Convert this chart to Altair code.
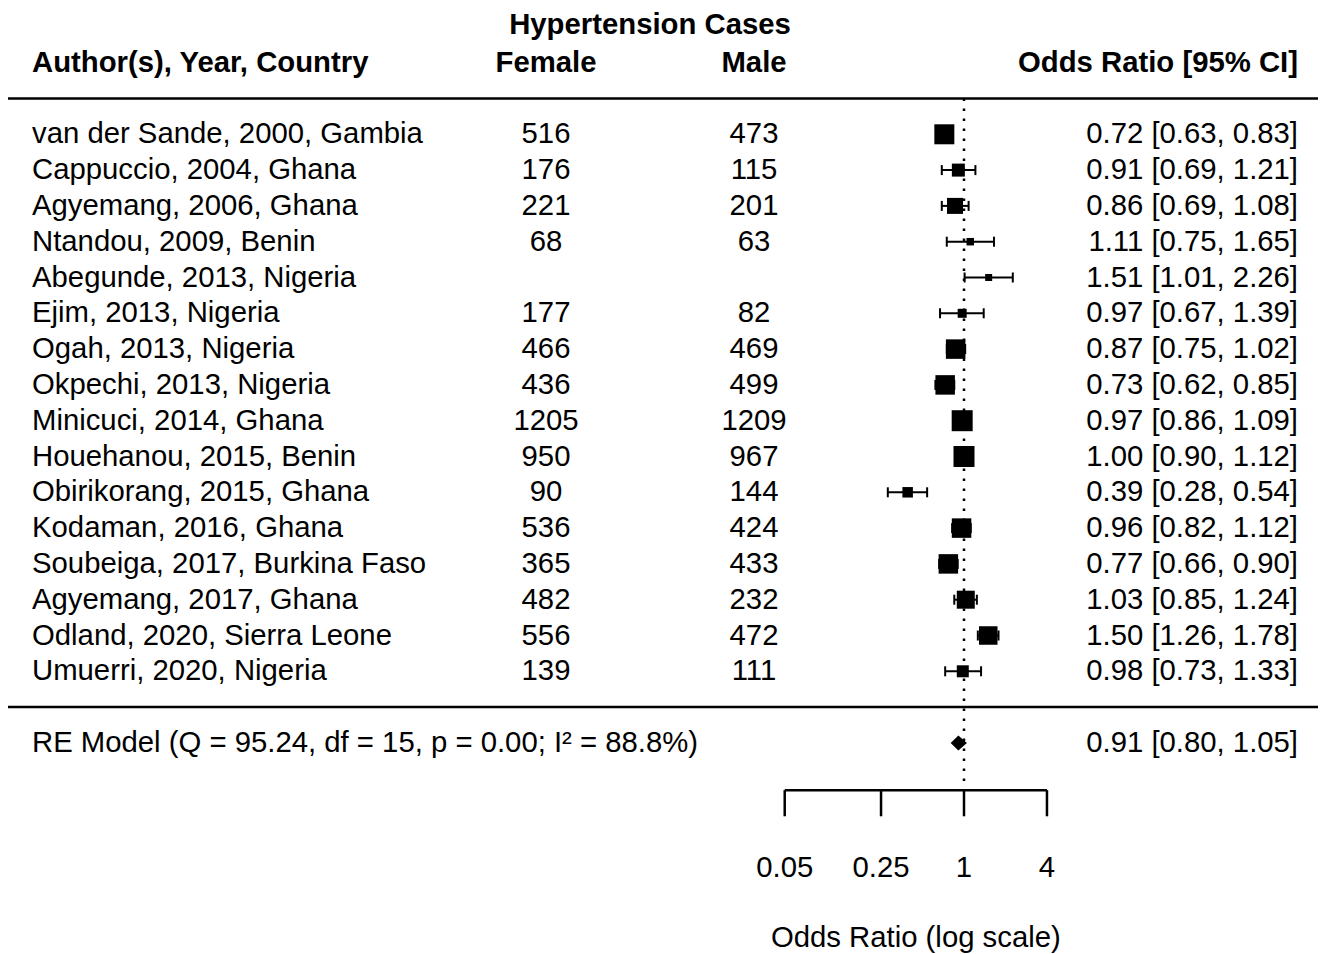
import altair as alt
import pandas as pd

# ---------------- data ----------------
studies = [
    "van der Sande, 2000, Gambia", "Cappuccio, 2004, Ghana", "Agyemang, 2006, Ghana",
    "Ntandou, 2009, Benin", "Abegunde, 2013, Nigeria", "Ejim, 2013, Nigeria",
    "Ogah, 2013, Nigeria", "Okpechi, 2013, Nigeria", "Minicuci, 2014, Ghana",
    "Houehanou, 2015, Benin", "Obirikorang, 2015, Ghana", "Kodaman, 2016, Ghana",
    "Soubeiga, 2017, Burkina Faso", "Agyemang, 2017, Ghana", "Odland, 2020, Sierra Leone",
    "Umuerri, 2020, Nigeria",
]
female_cases = [516, 176, 221, 68, None, 177, 466, 436, 1205, 950, 90, 536, 365, 482, 556, 139]
male_cases = [473, 115, 201, 63, None, 82, 469, 499, 1209, 967, 144, 424, 433, 232, 472, 111]
odds_ratio = [0.72, 0.91, 0.86, 1.11, 1.51, 0.97, 0.87, 0.73, 0.97, 1.00, 0.39, 0.96, 0.77, 1.03, 1.50, 0.98]
ci_lower = [0.63, 0.69, 0.69, 0.75, 1.01, 0.67, 0.75, 0.62, 0.86, 0.90, 0.28, 0.82, 0.66, 0.85, 1.26, 0.73]
ci_upper = [0.83, 1.21, 1.08, 1.65, 2.26, 1.39, 1.02, 0.85, 1.09, 1.12, 0.54, 1.12, 0.90, 1.24, 1.78, 1.33]
# study weights (%) as suggested by the square sizes
weights = [7.1, 5.7, 6.3, 4.6, 4.5, 4.9, 7.0, 7.0, 7.3, 7.3, 5.2, 7.0, 7.0, 6.7, 6.8, 5.5]

re_label = "RE Model (Q = 95.24, df = 15, p = 0.00; I² = 88.8%)"
re_est, re_lower, re_upper = 0.91, 0.80, 1.05

tick_values = [0.05, 0.25, 1, 4]
tick_labels = ["0.05", "0.25", "1", "4"]
axis_title = "Odds Ratio (log scale)"

hdr_study = "Author(s), Year, Country"
hdr_group = "Hypertension Cases"
hdr_female = "Female"
hdr_male = "Male"
hdr_or = "Odds Ratio [95% CI]"

# ---------------- layout constants ----------------
W, H = 1310, 946
PX_PER_ROW = 35.8
ROW1_PX = 126.3
YDOM = [1 - ROW1_PX / PX_PER_ROW, 1 + (H - ROW1_PX) / PX_PER_ROW]
ONE_PX, PX_PER_DEC = 956.0, 137.8
XDOM = [10 ** (-ONE_PX / PX_PER_DEC), 10 ** ((W - ONE_PX) / PX_PER_DEC)]

XS = alt.Scale(type="log", domain=XDOM, nice=False)
YS = alt.Scale(domain=YDOM, reverse=True, nice=False, zero=False)

FONT = "Liberation Sans"
FS = 29.3
X_LABEL, X_FEMALE, X_MALE, X_OR, X_GROUP = 24, 538, 746, 1290, 642

ROW_GROUP, ROW_HEAD = -2.05, -1.0
ROW_LINE_TOP, ROW_LINE_BOT = 0.0, 17.0
ROW_RE = 18.0
ROW_REF_END = 19.07
ROW_AXIS, ROW_TICK_END = 19.32, 20.05
ROW_TICKLAB, ROW_TITLE = 21.49, 23.45
DIAMOND_HALF = 0.21


def fmt_ci(o, l, u):
    return f"{o:.2f} [{l:.2f}, {u:.2f}]"


df = pd.DataFrame({
    "study": studies,
    "female": ["" if v is None else str(v) for v in female_cases],
    "male": ["" if v is None else str(v) for v in male_cases],
    "or": odds_ratio,
    "lb": ci_lower,
    "ub": ci_upper,
    "weight": weights,
})
df["row"] = range(1, len(df) + 1)
df["or_txt"] = [fmt_ci(o, l, u) for o, l, u in zip(odds_ratio, ci_lower, ci_upper)]


def Y(field="row"):
    return alt.Y(f"{field}:Q", scale=YS, axis=None)


def X(field):
    return alt.X(f"{field}:Q", scale=XS, axis=None)


def text_layer(data, xpix, field, align, bold=False, row_field="row"):
    return alt.Chart(data).mark_text(
        font=FONT, fontSize=FS, fontWeight="bold" if bold else "normal",
        align=align, baseline="middle", color="black",
    ).encode(x=alt.value(xpix), y=Y(row_field), text=f"{field}:N")


layers = []

# horizontal separator lines
lines_df = pd.DataFrame({"row": [ROW_LINE_TOP, ROW_LINE_BOT]})
layers.append(
    alt.Chart(lines_df).mark_rule(color="black", strokeWidth=2.5)
    .encode(x=alt.value(0), x2=alt.value(W), y=Y())
)

# dotted reference line at OR = 1
ref_df = pd.DataFrame({"x": [1.0], "y0": [ROW_LINE_TOP], "y1": [ROW_REF_END]})
layers.append(
    alt.Chart(ref_df).mark_rule(color="black", strokeWidth=2.5, strokeDash=[2.5, 7.5])
    .encode(x=X("x"), y=Y("y0"), y2="y1:Q")
)

# CI lines
layers.append(
    alt.Chart(df).mark_rule(color="black", strokeWidth=2)
    .encode(x=X("lb"), x2="ub:Q", y=Y())
)
# CI end caps
layers.append(
    alt.Chart(df).transform_fold(["lb", "ub"], as_=["end", "val"])
    .mark_tick(orient="vertical", size=10, thickness=2, color="black", opacity=1)
    .encode(x=X("val"), y=Y())
)
# squares sized by weight
layers.append(
    alt.Chart(df)
    .transform_joinaggregate(wmin="min(weight)", wmax="max(weight)")
    .transform_calculate(side="14 * (0.5 + (datum.weight - datum.wmin) / (datum.wmax - datum.wmin))")
    .transform_calculate(sz="datum.side * datum.side")
    .mark_square(filled=True, color="black", opacity=1)
    .encode(x=X("or"), y=Y(), size=alt.Size("sz:Q", scale=None, legend=None))
)

# summary diamond
dia_df = pd.DataFrame({
    "x": [re_lower, re_est, re_upper],
    "lo": [ROW_RE, ROW_RE - DIAMOND_HALF, ROW_RE],
    "hi": [ROW_RE, ROW_RE + DIAMOND_HALF, ROW_RE],
})
layers.append(
    alt.Chart(dia_df).mark_area(orient="vertical", color="black", opacity=1)
    .encode(x=X("x"), y=Y("lo"), y2="hi:Q")
)

# study text columns
layers.append(text_layer(df, X_LABEL, "study", "left"))
layers.append(text_layer(df, X_FEMALE, "female", "center"))
layers.append(text_layer(df, X_MALE, "male", "center"))
layers.append(text_layer(df, X_OR, "or_txt", "right"))

# RE model row
re_df = pd.DataFrame({"row": [ROW_RE], "label": [re_label],
                      "txt": [fmt_ci(re_est, re_lower, re_upper)]})
layers.append(text_layer(re_df, X_LABEL, "label", "left"))
layers.append(text_layer(re_df, X_OR, "txt", "right"))

# headers
hd = pd.DataFrame({"row": [ROW_HEAD], "a": [hdr_study], "f": [hdr_female],
                   "m": [hdr_male], "o": [hdr_or]})
hg = pd.DataFrame({"row": [ROW_GROUP], "g": [hdr_group]})
layers.append(text_layer(hd, X_LABEL, "a", "left", bold=True))
layers.append(text_layer(hd, X_FEMALE, "f", "center", bold=True))
layers.append(text_layer(hd, X_MALE, "m", "center", bold=True))
layers.append(text_layer(hd, X_OR, "o", "right", bold=True))
layers.append(text_layer(hg, X_GROUP, "g", "center", bold=True))

# x axis drawn through the log scale
ax_df = pd.DataFrame({"x0": [min(tick_values)], "x1": [max(tick_values)], "row": [ROW_AXIS]})
layers.append(
    alt.Chart(ax_df).mark_rule(color="black", strokeWidth=2.5)
    .encode(x=X("x0"), x2="x1:Q", y=Y())
)
tk_df = pd.DataFrame({"v": tick_values, "lab": tick_labels,
                      "r0": [ROW_AXIS] * len(tick_values),
                      "r1": [ROW_TICK_END] * len(tick_values),
                      "rl": [ROW_TICKLAB] * len(tick_values)})
layers.append(
    alt.Chart(tk_df).mark_rule(color="black", strokeWidth=2.5)
    .encode(x=X("v"), y=Y("r0"), y2="r1:Q")
)
layers.append(
    alt.Chart(tk_df).mark_text(font=FONT, fontSize=FS, align="center", baseline="middle", color="black")
    .encode(x=X("v"), y=Y("rl"), text="lab:N")
)
gm = (min(tick_values) * max(tick_values)) ** 0.5
ttl_df = pd.DataFrame({"v": [gm], "row": [ROW_TITLE], "t": [axis_title]})
layers.append(
    alt.Chart(ttl_df).mark_text(font=FONT, fontSize=FS, align="center", baseline="middle", color="black")
    .encode(x=X("v"), y=Y(), text="t:N")
)

chart = (
    alt.layer(*layers)
    .properties(width=W, height=H, padding=0, background="white",
                autosize=alt.AutoSizeParams(type="none"))
    .configure_view(strokeWidth=0)
)

chart.save("out.html", embed_options={"renderer": "svg", "actions": False})
